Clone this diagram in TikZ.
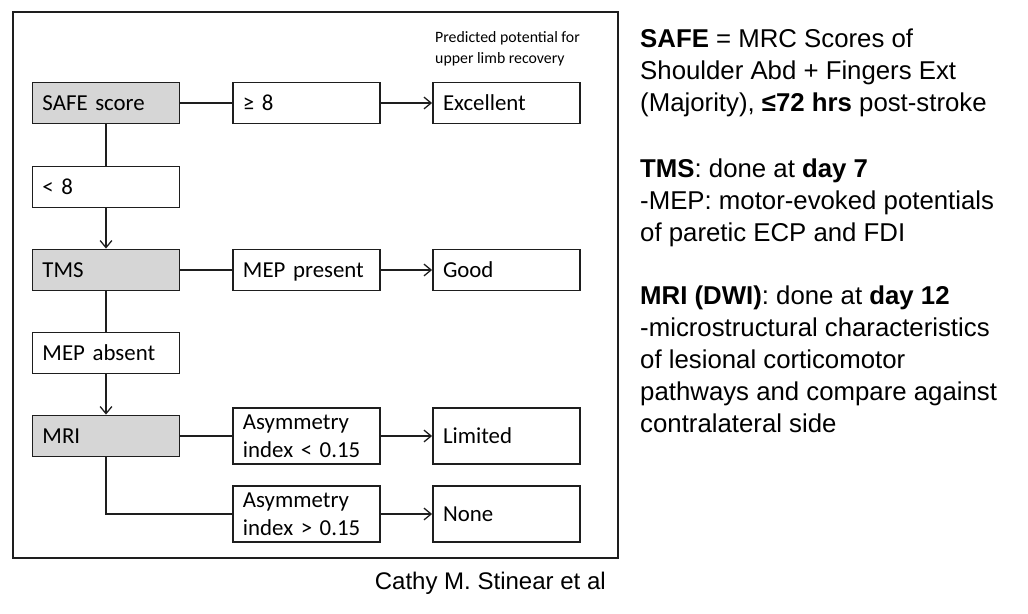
\documentclass[tikz,border=0pt]{standalone}
\usepackage{fontspec}
\setmainfont{Liberation Sans}
\newfontfamily\boxfont{Carlito}
\usetikzlibrary{arrows.meta,positioning}
\definecolor{stagefill}{RGB}{214,214,214}
\definecolor{linec}{RGB}{30,30,30}

\begin{document}
\begin{tikzpicture}[
  x=0.03cm, y=-0.03cm,
  cell/.style={
    draw=linec, line width=1.6pt, align=left,
    text width=3.81cm, inner xsep=0.3cm, inner ysep=0pt,
    font=\boxfont\fontsize{19.5}{24}\selectfont
  },
  box/.style={cell, minimum height=1.23cm,
    text height=12.5pt, text depth=0pt},
  stage/.style={box, fill=stagefill},
  tall/.style={cell, minimum height=1.68cm},
  link/.style={draw=linec, line width=1.1pt},
  arr/.style={link, -{Straight Barb[length=6pt,width=10pt,line width=1.1pt]}},
  note/.style={anchor=north west, align=left, inner sep=0pt,
    font=\fontsize{22}{27.3}\selectfont}
]
\useasboundingbox[fill=white] (0,0) rectangle (1028,614);

% ---- outer frame ----
\draw[linec, line width=1.7pt] (13,12) rectangle (618,558);

\node[anchor=west, align=left, inner sep=0pt,
  font=\boxfont\fontsize{13.5}{18}\selectfont] (predlab) at (435,49)
  {Predicted potential for\\upper limb recovery};

% ---- stages (left column) ----
\node[stage] (safe) at (106,103) {SAFE score};
\node[box]   (lt8)  at (106,187) {< 8};
\node[stage] (tms)  at (106,270) {TMS};
\node[box]   (mepabs) at (106,353) {MEP absent};
\node[stage] (mri)  at (106,436) {MRI};

% ---- results (middle column) ----
\node[box]  (ge8)    at (306.5,103) {≥ 8};
\node[box]  (mepprs) at (306.5,270) {MEP~present};
\node[tall] (asymlo) at (306.5,436) {Asymmetry\\index < 0.15};
\node[tall] (asymhi) at (306.5,514) {Asymmetry\\index > 0.15};

% ---- outcomes (right column) ----
\node[box]  (excel)   at (506.5,103) {Excellent};
\node[box]  (good)    at (506.5,270) {Good};
\node[tall] (limited) at (506.5,436) {Limited};
\node[tall] (none)    at (506.5,514) {None};

% ---- connectors ----
\draw[link] (safe) -- (ge8);
\draw[arr] (ge8) -- (excel);
\draw[link] (safe) -- (lt8);
\draw[arr] (lt8) -- (tms);
\draw[link] (tms) -- (mepprs);
\draw[arr] (mepprs) -- (good);
\draw[link] (tms) -- (mepabs);
\draw[arr] (mepabs) -- (mri);
\draw[link] (mri) -- (asymlo);
\draw[arr] (asymlo) -- (limited);
\draw[link] (mri.south) |- (asymhi.west);
\draw[arr] (asymhi) -- (none);

% ---- notes (right) ----
\node[note] (safenote) at (640,29)
  {\textbf{SAFE} = MRC Scores of\\
   Shoulder Abd + Fingers Ext\\
   (Majority), \textbf{≤72 hrs} post-stroke};
\node[note] (tmsnote) at (640,159)
  {\textbf{TMS}: done at \textbf{day 7}\\
   -MEP: motor-evoked potentials\\
   of paretic ECP and FDI};
\node[note] (mrinote) at (640,286)
  {\textbf{MRI (DWI)}: done at \textbf{day 12}\\
   -microstructural characteristics\\
   of lesional corticomotor\\
   pathways and compare against\\
   contralateral side};

\node[anchor=east, inner sep=0pt, font=\fontsize{20.5}{24}\selectfont]
  (cite) at (606,583) {Cathy M. Stinear et al};

\end{tikzpicture}
\end{document}
